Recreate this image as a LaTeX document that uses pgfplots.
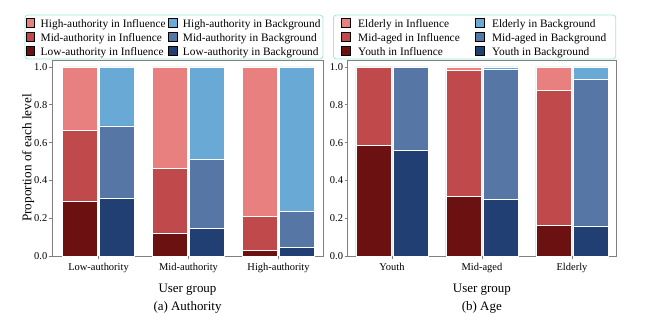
\documentclass[border=0pt]{standalone}
\usepackage{pgfplots}
\usepackage{pgfplotstable}
\pgfplotsset{compat=1.18}
\usepackage{fontspec}
\setmainfont{Liberation Serif}

\definecolor{rA}{RGB}{233,128,128}
\definecolor{rB}{RGB}{192,74,75}
\definecolor{rC}{RGB}{107,17,17}
\definecolor{bA}{RGB}{104,169,213}
\definecolor{bB}{RGB}{86,118,166}
\definecolor{bC}{RGB}{34,63,116}
\definecolor{frame}{RGB}{128,128,128}
\definecolor{legframe}{RGB}{160,232,222}

% segment values (bottom = low/youth, middle = mid, top = high/elderly)
\pgfplotstableread{
g low mid high
0 0.288 0.377 0.335
1 0.121 0.344 0.535
2 0.030 0.179 0.791
}\authInf
\pgfplotstableread{
g low mid high
0 0.304 0.384 0.312
1 0.146 0.363 0.491
2 0.046 0.191 0.763
}\authBg
\pgfplotstableread{
g low mid high
0 0.584 0.416 0.000
1 0.313 0.670 0.017
2 0.164 0.714 0.122
}\ageInf
\pgfplotstableread{
g low mid high
0 0.559 0.437 0.004
1 0.301 0.685 0.014
2 0.159 0.775 0.066
}\ageBg

\pgfplotsset{
  sq/.style={legend image code/.code={\fill[sharp corners, fill=#1] (0bp,-4.5bp) rectangle (8.5bp,4.5bp);}},
  seg/.style={fill=#1, draw=white, line width=0.7bp},
  base/.style={
    scale only axis, height=196bp,
    ymin=0, ymax=1.037,
    ybar stacked, bar width=0.39,
    axis line style={draw=frame, line width=0.8bp},
    tick style={draw=frame, line width=0.6bp},
    tick align=outside, major tick length=3bp,
    xtick={0,1,2},
    ytick={0,0.2,0.4,0.6,0.8,1.0},
    yticklabel style={/pgf/number format/fixed, /pgf/number format/fixed zerofill, /pgf/number format/precision=1},
    /pgf/number format/assume math mode=true,
    tick label style={font=\fontsize{10.5}{12}\selectfont, text=black},
    xticklabel style={inner sep=1.5bp, yshift=-2.5bp},
    yticklabel style={inner sep=1.5bp},
    xlabel style={align=center, font=\fontsize{13}{17.5}\selectfont, inner sep=1bp, yshift=-9bp},
    ylabel style={font=\fontsize{13.3}{15}\selectfont, yshift=-5bp},
    axis x line*=box, axis y line*=box,
    xtick pos=bottom, ytick pos=left,
    legend columns=2,
    legend cell align=left,
    legend style={
      draw=legframe, line width=0.8bp, rounded corners=3bp,
      font=\fontsize{11.4}{12.5}\selectfont,
      anchor=south, row sep=0bp,
      inner ysep=1bp,
      nodes={inner sep=1.5bp, text height=10bp, text depth=1bp},
    },
  },
  overlay/.style={
    scale only axis, height=196bp,
    ymin=0, ymax=1.037,
    ybar stacked, bar width=0.39,
    hide axis,
  },
}

\begin{document}
\begin{tikzpicture}
\path[use as bounding box] (0,0) rectangle (660bp,-324bp);

% ---------------- (a) Authority ----------------
\begin{axis}[base, at={(52bp,-256bp)}, anchor=south west,
  width=271bp, xmin=-0.517, xmax=2.494,
  xticklabels={Low-authority,Mid-authority,High-authority},
  xlabel={User group\\(a) Authority},
  ylabel={Proportion of each level},
  legend style={at={(0.45,1.003)}, inner xsep=1bp,
    /tikz/every even column/.append style={column sep=1bp},
    /tikz/every odd column/.append style={column sep=4bp}},
]
\addlegendimage{sq=rA}\addlegendentry{High-authority in Influence}
\addlegendimage{sq=bA}\addlegendentry{High-authority in Background}
\addlegendimage{sq=rB}\addlegendentry{Mid-authority in Influence}
\addlegendimage{sq=bB}\addlegendentry{Mid-authority in Background}
\addlegendimage{sq=rC}\addlegendentry{Low-authority in Influence}
\addlegendimage{sq=bC}\addlegendentry{Low-authority in Background}
\addplot[seg=rC, forget plot] table[x expr=\thisrow{g}-0.205, y=low] {\authInf};
\addplot[seg=rB, forget plot] table[x expr=\thisrow{g}-0.205, y=mid] {\authInf};
\addplot[seg=rA, forget plot] table[x expr=\thisrow{g}-0.205, y=high] {\authInf};
\end{axis}
\begin{axis}[overlay, at={(52bp,-256bp)}, anchor=south west,
  width=271bp, xmin=-0.517, xmax=2.494]
\addplot[seg=bC] table[x expr=\thisrow{g}+0.205, y=low] {\authBg};
\addplot[seg=bB] table[x expr=\thisrow{g}+0.205, y=mid] {\authBg};
\addplot[seg=bA] table[x expr=\thisrow{g}+0.205, y=high] {\authBg};
\end{axis}

% ---------------- (b) Age ----------------
\begin{axis}[base, at={(347.7bp,-256bp)}, anchor=south west,
  width=268.3bp, xmin=-0.492, xmax=2.489,
  xticklabels={Youth,Mid-aged,Elderly},
  xlabel={User group\\(b) Age},
  legend style={at={(0.473,1.003)}, inner xsep=8bp,
    /tikz/every even column/.append style={column sep=14bp},
    /tikz/every odd column/.append style={column sep=6bp}},
]
\addlegendimage{sq=rA}\addlegendentry{Elderly in Influence}
\addlegendimage{sq=bA}\addlegendentry{Elderly in Background}
\addlegendimage{sq=rB}\addlegendentry{Mid-aged in Influence}
\addlegendimage{sq=bB}\addlegendentry{Mid-aged in Background}
\addlegendimage{sq=rC}\addlegendentry{Youth in Influence}
\addlegendimage{sq=bC}\addlegendentry{Youth in Background}
\addplot[seg=rC, forget plot] table[x expr=\thisrow{g}-0.205, y=low] {\ageInf};
\addplot[seg=rB, forget plot] table[x expr=\thisrow{g}-0.205, y=mid] {\ageInf};
\addplot[seg=rA, forget plot] table[x expr=\thisrow{g}-0.205, y=high] {\ageInf};
\end{axis}
\begin{axis}[overlay, at={(347.7bp,-256bp)}, anchor=south west,
  width=268.3bp, xmin=-0.492, xmax=2.489]
\addplot[seg=bC] table[x expr=\thisrow{g}+0.205, y=low] {\ageBg};
\addplot[seg=bB] table[x expr=\thisrow{g}+0.205, y=mid] {\ageBg};
\addplot[seg=bA] table[x expr=\thisrow{g}+0.205, y=high] {\ageBg};
\end{axis}
\end{tikzpicture}
\end{document}
